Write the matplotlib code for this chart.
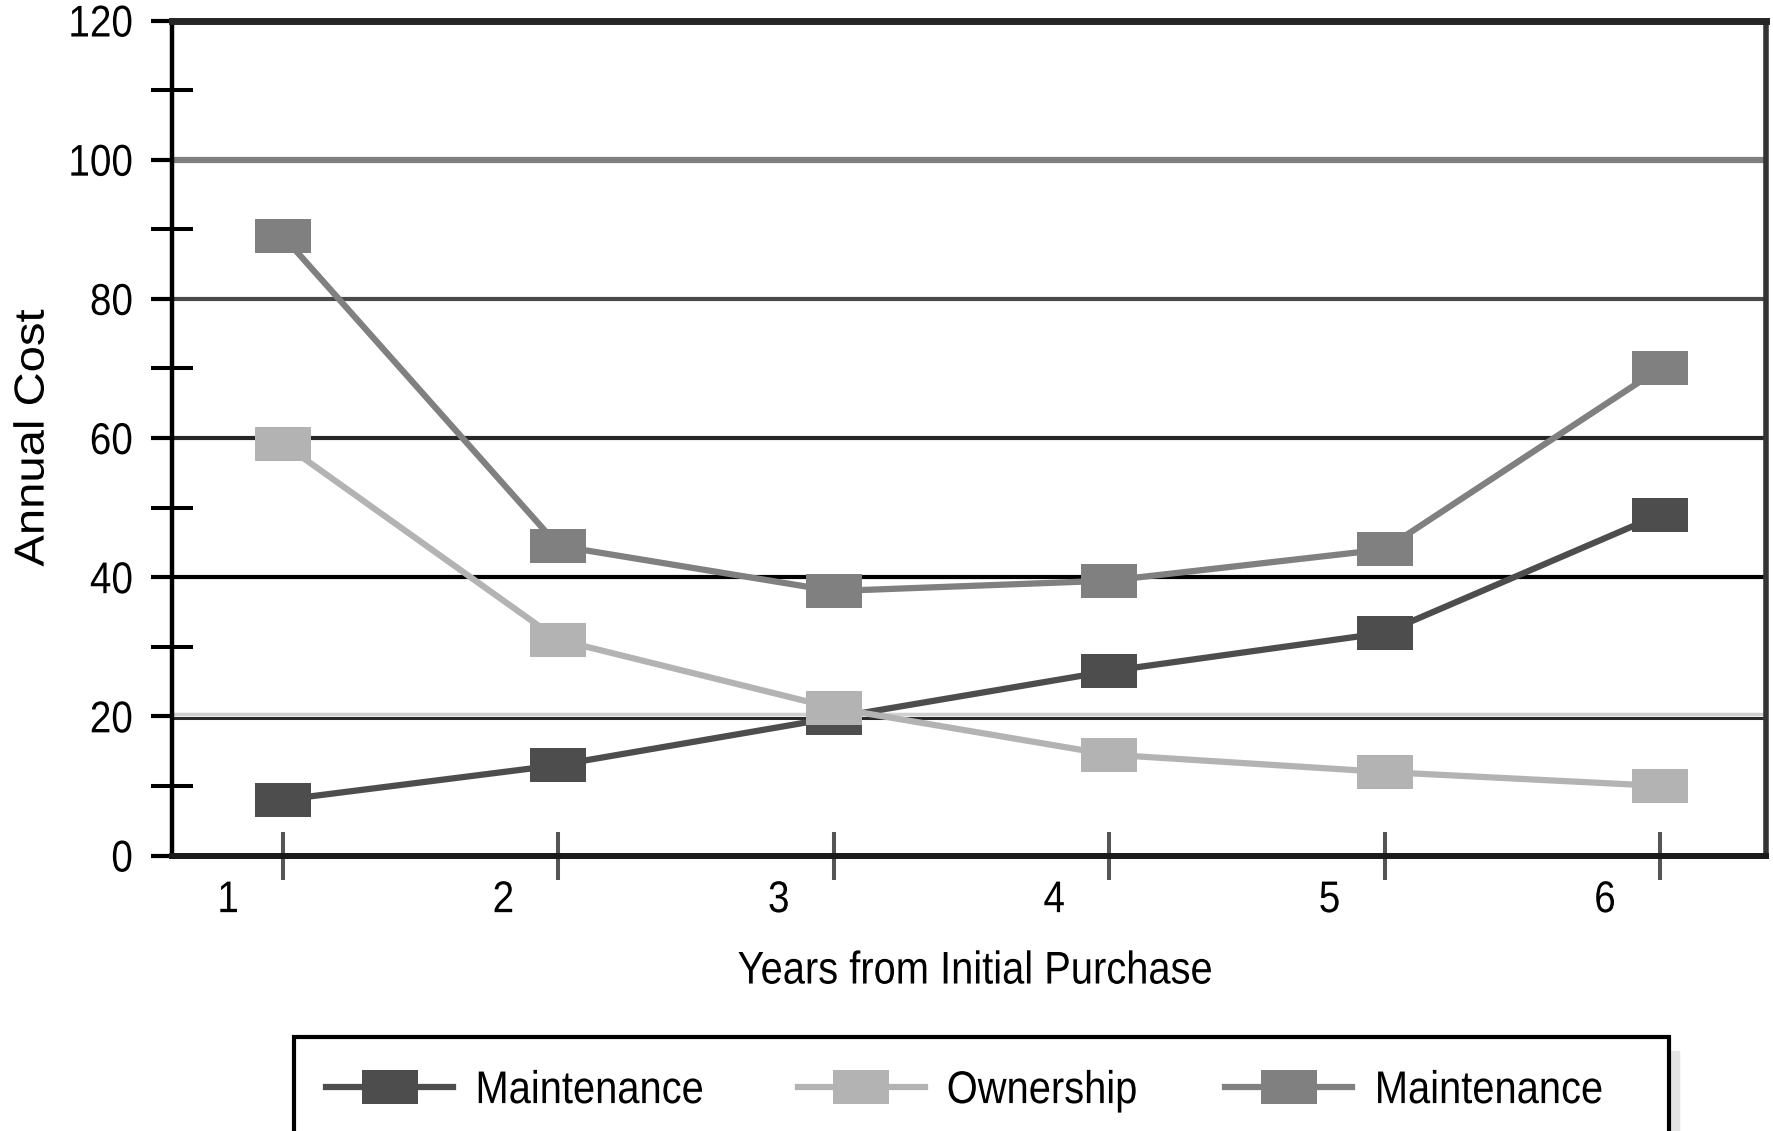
import matplotlib
matplotlib.use("Agg")
import matplotlib.pyplot as plt
from matplotlib.patches import Rectangle
from matplotlib.patheffects import AbstractPathEffect
from matplotlib.transforms import Affine2D, ScaledTranslation

years = [1, 2, 3, 4, 5, 6]
maintenance = [8, 13, 19.8, 26.5, 32, 49]
ownership = [59.2, 31, 21.2, 14.5, 12, 10]
total = [89, 44.5, 38, 39.5, 44, 70]

labels = ["Maintenance", "Ownership", "Maintenance"]
colors = ["#4d4d4d", "#b3b3b3", "#808080"]

y_major = [0, 20, 40, 60, 80, 100, 120]
y_minor = [10, 30, 50, 70, 90, 110]
# each level of the scale has its own shade of grey
major_colors = ["#808080", "#2a2a2a", "#000000", "#262626", "#4a4a4a", "#808080", "#808080"]
minor_colors = ["#555555", "#333333", "#111111", "#404040", "#5a5a5a", "#5a5a5a"]

SQUEEZE = 0.87  # condensed lettering


class Squeeze(AbstractPathEffect):
    """Scale glyph outlines in the text's own frame, about a chosen anchor."""

    def __init__(self, sx=1.0, sy=1.0, anchor=0.5):
        super().__init__()
        self.sx, self.sy, self.anchor = sx, sy, anchor

    def draw_path(self, renderer, gc, tpath, affine, rgbFace=None):
        ext = tpath.get_extents()
        cx = ext.x0 + self.anchor * ext.width
        cy = (ext.y0 + ext.y1) / 2
        tr = Affine2D().translate(-cx, -cy).scale(self.sx, self.sy).translate(cx, cy)
        renderer.draw_path(gc, tpath, tr + affine, rgbFace)


plt.rcParams["font.family"] = ["Liberation Sans", "DejaVu Sans"]

fig = plt.figure(figsize=(17.73, 11.31), dpi=100)
ax = fig.add_axes([172 / 1773, 1 - 855.5 / 1131, 1594 / 1773, 835 / 1131])

# flat rectangular marker, wider than tall
rect = [(-1, -0.614), (1, -0.614), (1, 0.614), (-1, 0.614), (-1, -0.614)]

handles = []
for vals, lab, c in zip([maintenance, ownership, total], labels, colors):
    h, = ax.plot(years, vals, color=c, lw=4.5, marker=rect, markersize=41,
                 markeredgewidth=0, label=lab, zorder=3)
    handles.append(h)

# horizontal rules
for lvl, c in zip(y_major[1:-1], major_colors[1:-1]):
    if lvl == 20:
        ax.axhline(lvl + 0.3, color="#d0d0d0", lw=2.5, zorder=1)
        ax.axhline(lvl - 0.2, color=c, lw=2.2, zorder=1)
    else:
        ax.axhline(lvl, color=c, lw=3 if lvl != 100 else 4.5, zorder=1)

ax.set_xlim(0.597, 6.385)
ax.set_ylim(0, 120)

ax.set_yticks(y_major)
ax.set_yticks(y_minor, minor=True)
ax.set_xticks(years)
ax.tick_params(axis="y", which="major", direction="out", length=15, width=3,
               pad=13, labelsize=32)
ax.tick_params(axis="y", which="minor", direction="inout", length=30, width=2.9)
ax.tick_params(axis="x", direction="inout", length=34.5, width=2.9,
               color="#555555", pad=0.5, labelsize=32)

for t, c in zip(ax.yaxis.get_major_ticks(), major_colors):
    t.tick1line.set_color(c)
for t, c in zip(ax.yaxis.get_minor_ticks(), minor_colors):
    t.tick1line.set_color(c)

# year labels sit to the left of their ticks
shift = ScaledTranslation(-0.55, 0, fig.dpi_scale_trans)
for lbl in ax.get_xticklabels():
    lbl.set_transform(lbl.get_transform() + shift)
    lbl.set_path_effects([Squeeze(SQUEEZE, 1, 0.5)])
for lbl in ax.get_yticklabels():
    lbl.set_path_effects([Squeeze(SQUEEZE, 1, 1.0)])

ax.spines["left"].set(color="#000000", lw=3.2)
ax.spines["bottom"].set(color="#1a1a1a", lw=4.3)
ax.spines["top"].set(color="#262626", lw=5)
ax.spines["right"].set(color="#333333", lw=4)

ax.set_xlabel("Years from Initial Purchase", fontsize=33,
              path_effects=[Squeeze(SQUEEZE, 1, 0.5)])
ax.xaxis.set_label_coords(0.504, -0.1126)
ax.set_ylabel("Annual Cost", fontsize=34,
              path_effects=[Squeeze(1, 0.89, 0.5)])
ax.yaxis.set_label_coords(-0.0731, 0.5)

fs = 33
leg = fig.legend(handles, labels, loc="upper left",
                 bbox_to_anchor=(294 / 1773, 1 - 1037 / 1131),
                 ncol=3, fontsize=fs, frameon=True, fancybox=False,
                 edgecolor="black", framealpha=1, borderaxespad=0,
                 handlelength=91.4 / fs, handletextpad=15.8 / fs,
                 columnspacing=43 / fs, borderpad=0.7)
leg.get_frame().set_linewidth(3)
for txt in leg.get_texts():
    txt.set_path_effects([Squeeze(SQUEEZE, 1, 0.0)])

# drop shadow to the lower right of the legend box
fig.canvas.draw()
bb = leg.get_window_extent().transformed(fig.transFigure.inverted())
fig.add_artist(Rectangle((bb.x0 + 10 / 1773, bb.y0 - 10 / 1131), bb.width, bb.height - 4 / 1131,
                         transform=fig.transFigure, color="#e4e4e4", zorder=0))

fig.savefig("out.png", dpi=100)
